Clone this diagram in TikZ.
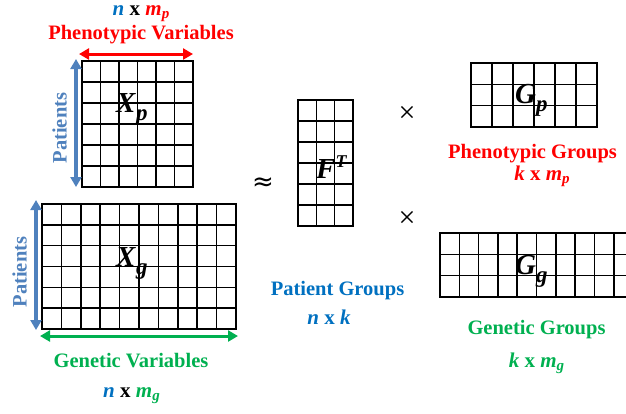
\documentclass[tikz,border=0pt]{standalone}
\usepackage{fontspec}
\setmainfont{Liberation Serif}
\newfontfamily\symfont{DejaVu Sans}
\usetikzlibrary{arrows.meta,calc}

\definecolor{pheno}{HTML}{FF0000}
\definecolor{gene}{HTML}{00B050}
\definecolor{patient}{HTML}{0070C0}
\definecolor{patarrow}{HTML}{4F81BD}

% bold italic letters and their indices
\newcommand{\mv}[1]{\textbf{\textit{#1}}}
\newcommand{\dimsub}[1]{\raisebox{-3.5pt}{\fontsize{15}{15}\selectfont\mv{#1}}}
\newcommand{\matsub}[1]{\raisebox{-8pt}{\fontsize{23}{23}\selectfont\mv{#1}}}
\newcommand{\matsup}[1]{\raisebox{11pt}{\fontsize{18}{18}\selectfont\mv{#1}}}

% grid of a matrix node: name, columns, rows
\newcommand{\matgrid}[3]{%
  \foreach \c in {0,...,#2}
    \draw[gridline] ($(#1.north west)!\c/#2!(#1.north east)$) -- ($(#1.south west)!\c/#2!(#1.south east)$);
  \foreach \r in {0,...,#3}
    \draw[gridline] ($(#1.north west)!\r/#3!(#1.south west)$) -- ($(#1.north east)!\r/#3!(#1.south east)$);
}

\tikzset{
  mat/.style={inner sep=0pt, outer sep=0pt},
  gridline/.style={line width=1.6pt, line cap=rect},
  matlbl/.style={inner sep=0pt, anchor=base west, font=\fontsize{29}{30}\selectfont},
  lbl/.style={inner sep=0pt, anchor=base, font=\fontsize{20.5}{24}\selectfont\bfseries},
  dimlbl/.style={inner sep=0pt, anchor=base, font=\fontsize{21}{24}\selectfont\bfseries},
  oplbl/.style={inner sep=0pt, font=\fontsize{30}{32}\selectfont},
  sidelbl/.style={lbl, anchor=center, rotate=90, text=patarrow},
  dimarrow/.style={line width=3pt, {Triangle[length=10pt,width=11pt]}-{Triangle[length=10pt,width=11pt]}},
}

\begin{document}
\begin{tikzpicture}[x=1pt,y=-1pt]
    \clip (0,0) rectangle (626,413);

    % Phenotypic data
    \node[mat, minimum width=111pt, minimum height=126pt] (xp) at (137.5,124) {};
    \matgrid{xp}{6}{6}
    \node[matlbl] (xplbl) at (116,112) {\mv{X}\matsub{p}};
    \node[dimlbl] (dimxp) at (141,15) {\textcolor{patient}{\mv{n}} x \textcolor{pheno}{\mv{m}\dimsub{p}}};
    \node[lbl, text=pheno] (pvar) at (141,39) {Phenotypic Variables};
    \node[sidelbl] (patp) at (59.5,128) {Patients};
    \draw[dimarrow, pheno] ([xshift=-3pt,yshift=7pt]xp.north west) -- ([yshift=7pt]xp.north east);
    \draw[dimarrow, patarrow, line width=3.5pt] ([xshift=-6pt,yshift=2pt]xp.north west) -- ([xshift=-6pt]xp.south west);

    % Genetic data
    \node[mat, minimum width=194pt, minimum height=125pt] (xg) at (139,266.5) {};
    \matgrid{xg}{10}{6}
    \node[matlbl] (xglbl) at (116,266) {\mv{X}\matsub{g}};
    \node[sidelbl] (patg) at (19.5,272) {Patients};
    \node[lbl, text=gene] (gvar) at (131,367) {Genetic Variables};
    \node[dimlbl] (dimxg) at (131.5,397) {\textcolor{patient}{\mv{n}} x \textcolor{gene}{\mv{m}\dimsub{g}}};
    \draw[dimarrow, patarrow, line width=3.5pt] ([xshift=-6pt,yshift=4pt]xg.north west) -- ([xshift=-6pt,yshift=-1pt]xg.south west);
    \draw[dimarrow, gene] ([xshift=-2pt,yshift=-7pt]xg.south west) -- ([xshift=2pt,yshift=-7pt]xg.south east);

    % Patient groups
    \node[oplbl, font=\fontsize{26}{28}\selectfont\symfont] (approx) at (263,184) {≈};
    \node[mat, minimum width=55pt, minimum height=126pt] (ft) at (325.5,163) {};
    \matgrid{ft}{3}{6}
    \node[matlbl] (ftlbl) at (316,178) {\mv{F}\matsup{T}};
    \node[lbl, text=patient] (pgrp) at (337.5,295) {Patient Groups};
    \node[dimlbl, text=patient] (dimf) at (329,324) {\mv{n} x \mv{k}};
    \node[oplbl] (times1) at (407,114) {×};
    \node[oplbl] (times2) at (407,219) {×};

    % Phenotypic groups
    \node[mat, minimum width=126pt, minimum height=64pt] (gp) at (534,95) {};
    \matgrid{gp}{6}{3}
    \node[matlbl] (gplbl) at (515,103) {\mv{G}\matsub{p}};
    \node[lbl, text=pheno] (phgrp) at (532.5,158) {Phenotypic Groups};
    \node[dimlbl, text=pheno] (dimgp) at (542,180) {\mv{k} x \mv{m}\dimsub{p}};

    % Genetic groups
    \node[mat, minimum width=193pt, minimum height=64pt] (gg) at (536.5,265) {};
    \matgrid{gg}{10}{3}
    \node[matlbl] (gglbl) at (515,274) {\mv{G}\matsub{g}};
    \node[lbl, text=gene] (gegrp) at (536.5,334) {Genetic Groups};
    \node[dimlbl, text=gene] (dimgg) at (536.5,367) {\mv{k} x \mv{m}\dimsub{g}};
\end{tikzpicture}
\end{document}
